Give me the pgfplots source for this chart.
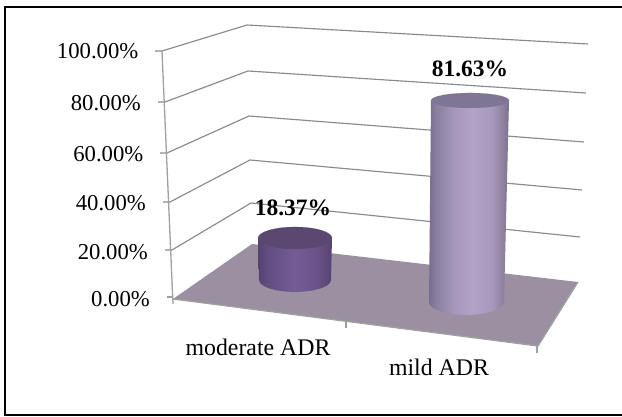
\documentclass[border=0pt]{standalone}
\usepackage{pgfplots}
\pgfplotsset{compat=1.18}
\usepackage{fontspec}
\setmainfont{Liberation Serif}

% Horizontal ramps that give the cylinders their rounded look
\pgfdeclarehorizontalshading{mildbody}{100bp}{
  rgb(0bp)=(0.47,0.43,0.56); rgb(25bp)=(0.47,0.43,0.56);
  rgb(29bp)=(0.54,0.49,0.62); rgb(40bp)=(0.64,0.59,0.72);
  rgb(52bp)=(0.70,0.64,0.79); rgb(65bp)=(0.65,0.59,0.73);
  rgb(71bp)=(0.56,0.51,0.62); rgb(75bp)=(0.48,0.44,0.56);
  rgb(100bp)=(0.48,0.44,0.56)}
\pgfdeclarehorizontalshading{moderatebody}{100bp}{
  rgb(0bp)=(0.33,0.26,0.45); rgb(25bp)=(0.33,0.26,0.45);
  rgb(31bp)=(0.38,0.30,0.50); rgb(50bp)=(0.46,0.36,0.59);
  rgb(65bp)=(0.41,0.32,0.53); rgb(75bp)=(0.34,0.27,0.45);
  rgb(100bp)=(0.34,0.27,0.45)}

\definecolor{gridgray}{HTML}{8A8A8A}
\definecolor{axisgray}{HTML}{A0A0A0}
\definecolor{floorcol}{HTML}{9A90A2}
\definecolor{moderatetop}{HTML}{5B4870}
\definecolor{mildtop}{HTML}{7F7693}

\newcommand{\ticklabelfont}{\fontsize{22.7}{27}\selectfont}
\newcommand{\catfont}{\fontsize{23.8}{28}\selectfont}
\newcommand{\valuefont}{\fontsize{23.5}{28}\selectfont\bfseries}

\pgfplotsset{
  sheet/.style={
    at={(0,0)}, anchor=south west,
    scale only axis, width=622pt, height=417pt,
    axis lines=none, clip=false,
    xmin=0, xmax=622,
  },
  grid line/.style={draw=gridgray, line width=1.15pt, no markers, forget plot},
  axis line/.style={draw=axisgray, line width=1.3pt, no markers, forget plot},
}

\begin{document}
\begin{tikzpicture}
\path[use as bounding box] (0,0) rectangle (622pt,417pt);

% Frame, walls, floor and labels, laid out on the sheet
\begin{axis}[sheet, ymin=0, ymax=417, y dir=reverse]
  \addplot[draw=black, line width=1.3pt, no markers] coordinates {(622,7) (5,7) (5,415) (622,415)};

  % Gridlines bend at the back corner of the box
  \addplot[grid line] coordinates {(155,51) (162,51) (247,25) (588,44)};
  \addplot[grid line] coordinates {(158,102) (165,102) (248,71) (586,93)};
  \addplot[grid line] coordinates {(160,153) (167,153) (249,116) (584,142)};
  \addplot[grid line] coordinates {(163,202) (170,202) (250,160) (582,190)};
  \addplot[grid line] coordinates {(165,250) (172,250) (251,203) (580,237)};

  % Value axis
  \addplot[axis line] coordinates {(162,51) (173,304)};
  \addplot[axis line] coordinates {(167,297) (173,297)};

  % Floor
  \addplot[fill=floorcol, draw=none, no markers] coordinates {(173,299) (252,244) (578,282) (538,346) (173,299)};
  \addplot[axis line] coordinates {(173,299) (538,346) (578,282)};
  \addplot[axis line] coordinates {(346,322) (346,328)};
  \addplot[axis line] coordinates {(537,346) (537,353)};

  % Value axis tick labels
  \node[anchor=base east, inner sep=0pt, font=\ticklabelfont] at (axis cs:138.5,59) {100.00\%};
  \node[anchor=base east, inner sep=0pt, font=\ticklabelfont] at (axis cs:141,111) {80.00\%};
  \node[anchor=base east, inner sep=0pt, font=\ticklabelfont] at (axis cs:143.5,162) {60.00\%};
  \node[anchor=base east, inner sep=0pt, font=\ticklabelfont] at (axis cs:146,211) {40.00\%};
  \node[anchor=base east, inner sep=0pt, font=\ticklabelfont] at (axis cs:148,259) {20.00\%};
  \node[anchor=base east, inner sep=0pt, font=\ticklabelfont] at (axis cs:150,306) {0.00\%};

  % Category labels
  \node[anchor=base, inner sep=0pt, font=\catfont] at (axis cs:258,355) {moderate ADR};
  \node[anchor=base, inner sep=0pt, font=\catfont] at (axis cs:439,375) {mild ADR};
\end{axis}

% moderate ADR: value 0 sits on the cylinder's base centre
\begin{axis}[sheet, ymin=-59.92, ymax=122.46]
  \addplot[shade, shading=moderatebody, draw=none, no markers] coordinates {
    (258,18.37) (332,18.37) (331,0)
    (329.8,-1.36) (326.2,-2.63) (320.5,-3.71) (313,-4.55) (304.3,-5.07) (295,-5.25)
    (285.7,-5.07) (277,-4.55) (269.5,-3.71) (263.8,-2.63) (260.2,-1.36) (259,0) (258,18.37)};
  \addplot[only marks, mark=*, mark size=1pt, color=moderatetop,
    mark options={xscale=37, yscale=11, fill=moderatetop, draw=moderatetop, line width=0.1pt}] coordinates {(295,18.37)};
  \node[anchor=base, inner sep=0pt, font=\valuefont, yshift=22pt] at (axis cs:293,18.37) {18.37\%};
\end{axis}

% mild ADR: value 0 sits on the cylinder's base centre
\begin{axis}[sheet, ymin=-46.59, ymax=122.34]
  \addplot[shade, shading=mildbody, draw=none, no markers] coordinates {
    (431,81.63) (509,81.63) (504,0)
    (502.7,-1.36) (499,-2.64) (493,-3.73) (485.25,-4.56) (476.2,-5.09) (466.5,-5.27)
    (456.8,-5.09) (447.75,-4.56) (440,-3.73) (434,-2.64) (430.3,-1.36) (429,0) (431,81.63)};
  \addplot[only marks, mark=*, mark size=1pt, color=mildtop,
    mark options={xscale=39, yscale=7.5, fill=mildtop, draw=mildtop, line width=0.1pt}] coordinates {(470,81.63)};
  \node[anchor=base, inner sep=0pt, font=\valuefont, yshift=24pt] at (axis cs:470,81.63) {81.63\%};
\end{axis}
\end{tikzpicture}
\end{document}
